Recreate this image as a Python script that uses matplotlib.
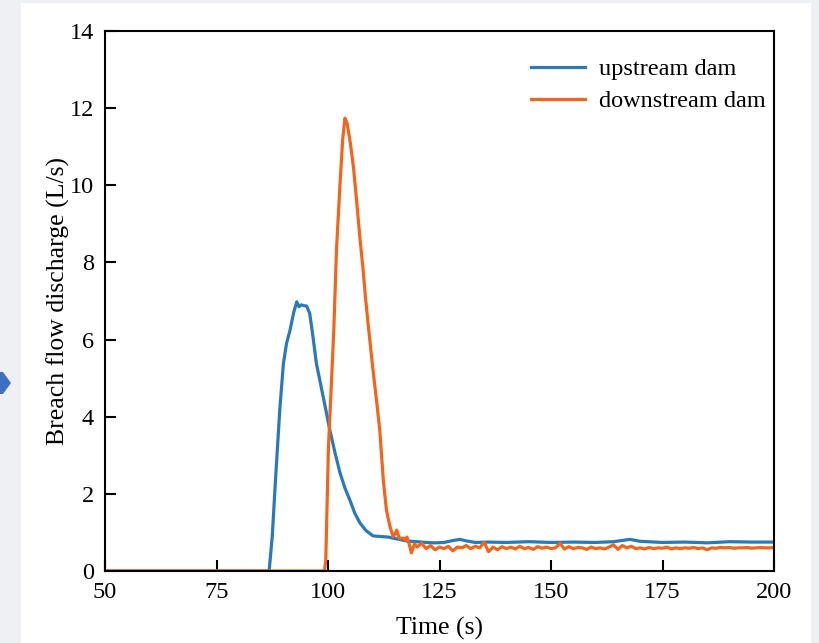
import numpy as np
import matplotlib.pyplot as plt
from matplotlib.patches import Rectangle, Polygon

# ---------------- data ----------------
t_up = [50, 86.8, 87.5, 88.3, 89.2, 90.0, 90.7, 91.5, 92.3, 93.0, 93.5, 94.0,
        94.6, 95.2, 95.9, 96.6, 97.4, 98.3, 99.3, 100.4, 101.5, 102.7, 103.8,
        104.9, 106.0, 107.2, 108.5, 110.1, 111.2, 112.3, 113.5, 114.6, 116.0,
        117.5, 119.9, 122, 124, 126, 128, 129.6, 131, 133, 136, 140, 145, 150,
        155, 160, 164, 167.7, 170, 175, 180, 185, 190, 195, 200]
q_up = [0, 0, 0.9, 2.5, 4.2, 5.38, 5.9, 6.25, 6.7, 6.98, 6.85, 6.9,
        6.88, 6.87, 6.68, 6.1, 5.38, 4.87, 4.3, 3.66, 3.1, 2.54, 2.15,
        1.84, 1.5, 1.24, 1.05, 0.91, 0.90, 0.89, 0.88, 0.85, 0.82,
        0.78, 0.76, 0.74, 0.73, 0.74, 0.79, 0.82, 0.78, 0.74, 0.75, 0.74, 0.76, 0.74,
        0.75, 0.74, 0.76, 0.82, 0.77, 0.74, 0.75, 0.73, 0.76, 0.75, 0.75]

t_down = [50, 99.2, 99.5, 100.1, 100.7, 101.3, 101.9, 102.7, 103.3, 103.8, 104.3,
          105.0, 105.7, 106.4, 107.2, 107.8, 108.4, 109.0, 110.1, 111.0, 111.6, 112.4,
          113.1, 113.9, 114.6, 115.0, 115.4, 116.0, 116.9, 117.3, 117.7, 118.2,
          118.7, 119.4,
          120, 121, 122, 123, 124, 125, 126, 127, 128, 129, 130, 131, 132, 133,
          134, 135, 136, 137, 138, 139, 140, 141, 142, 143, 144, 145, 146, 147,
          148, 149, 150, 151, 152, 153, 154, 155, 156, 157, 158, 159, 160, 161,
          162, 163, 164, 165, 166, 167, 168, 169, 170, 171, 172, 173, 174, 175,
          176, 177, 178, 179, 180, 181, 182, 183, 184, 185, 186, 187, 188, 189,
          190, 191, 192, 193, 194, 195, 196, 197, 198, 199, 200]
q_down = [0, 0, 0.28, 3.22, 4.7, 6.25, 8.32, 10.05, 11.2, 11.74, 11.6,
          11.1, 10.48, 9.62, 8.58, 7.9, 7.1, 6.4, 5.2, 4.3, 3.66, 2.36,
          1.58, 1.15, 0.89, 0.95, 1.06, 0.85, 0.85, 0.80, 0.88, 0.70,
          0.47, 0.70,
          0.62, 0.72, 0.58, 0.66, 0.55, 0.62, 0.58, 0.64, 0.52, 0.62, 0.60, 0.66, 0.58, 0.64,
          0.60, 0.74, 0.50, 0.62, 0.55, 0.63, 0.58, 0.62, 0.57, 0.64, 0.58, 0.61, 0.56, 0.63,
          0.59, 0.62, 0.58, 0.60, 0.72, 0.57, 0.63, 0.58, 0.61, 0.60, 0.56, 0.62, 0.58, 0.60,
          0.57, 0.62, 0.68, 0.56, 0.66, 0.60, 0.64, 0.58, 0.60, 0.57, 0.61, 0.58, 0.60, 0.59,
          0.62, 0.57, 0.60, 0.58, 0.60, 0.59, 0.61, 0.58, 0.60, 0.55, 0.60, 0.59, 0.61, 0.60,
          0.61, 0.59, 0.60, 0.60, 0.61, 0.59, 0.60, 0.61, 0.60, 0.60, 0.61]

x_ticks = [50, 75, 100, 125, 150, 175, 200]
y_ticks = [0, 2, 4, 6, 8, 10, 12, 14]
# -----------------------------------------------------------

plt.rcParams['font.family'] = ['Liberation Serif', 'DejaVu Serif']

W, H = 820, 643
fig = plt.figure(figsize=(W / 100, H / 100), dpi=100, facecolor='#eef0f4')

# white panel behind the chart + the little blue marker on the left edge
fig.patches.append(Rectangle((21 / W, 0), 790 / W, 640 / H, transform=fig.transFigure,
                             facecolor='white', edgecolor='none', zorder=-2))
arrow = [(0, 372), (3, 372), (11, 383), (3, 394), (0, 394)]
fig.patches.append(Polygon([(x / W, 1 - y / H) for x, y in arrow], closed=True,
                           transform=fig.transFigure, facecolor='#3f6fc2',
                           edgecolor='none', zorder=-1))

ax = fig.add_axes([105 / W, 1 - 571 / H, (774 - 105) / W, (571 - 31) / H])
ax.set_zorder(2)
ax.set_facecolor('white')

ax.plot(t_up, q_up, color='#2a7ab8', lw=2.3, label='upstream dam')
ax.plot(t_down, q_down, color='#f0661c', lw=2.3, label='downstream dam')

ax.set_xlim(50, 200)
ax.set_ylim(0, 14)
ax.set_xticks(x_ticks)
ax.set_yticks(y_ticks)
ax.tick_params(direction='in', length=8, width=1.5, labelsize=17.5, pad=8,
               top=False, right=False)
for sp in ax.spines.values():
    sp.set_linewidth(1.5)

ax.set_xlabel('Time (s)', fontsize=18.5, labelpad=10)
ax.set_ylabel('Breach flow discharge (L/s)', fontsize=18.5, labelpad=0)

ax.legend(loc='upper right', bbox_to_anchor=(1.006, 0.972), frameon=False,
          fontsize=17.5, handlelength=2.2, handletextpad=0.6,
          labelspacing=0.4, borderaxespad=0.1)

fig.savefig('out.png', dpi=100, facecolor=fig.get_facecolor())
